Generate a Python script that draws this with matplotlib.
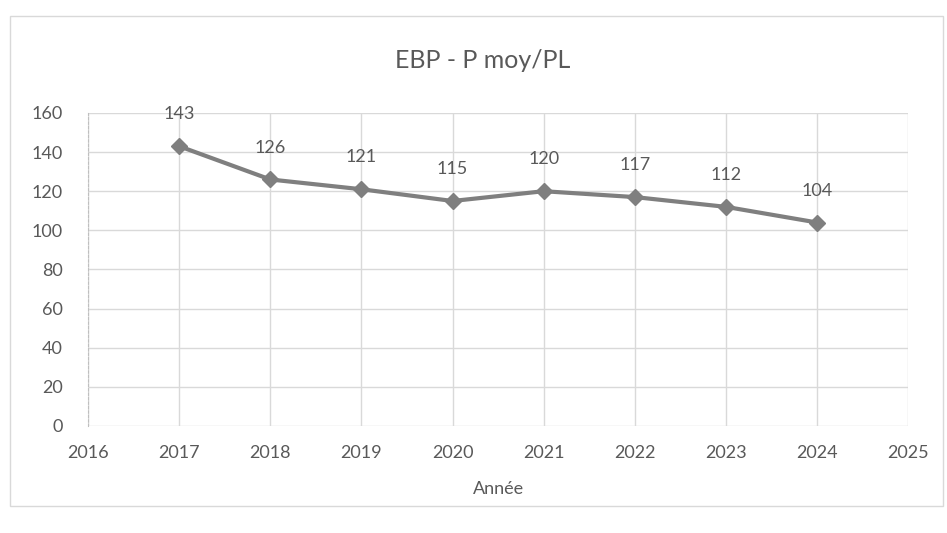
import matplotlib.pyplot as plt
from matplotlib.patches import Rectangle

# données du graphique
annees = [2017, 2018, 2019, 2020, 2021, 2022, 2023, 2024]
p_moy = [143, 126, 121, 115, 120, 117, 112, 104]
x_ticks = list(range(2016, 2026))
y_ticks = list(range(0, 161, 20))

gris = '#7f7f7f'
texte = '#595959'
plt.rcParams['font.family'] = ['Lato', 'DejaVu Sans']

fig = plt.figure(figsize=(9.47, 5.33), dpi=100)
ax = fig.add_axes([0.093, 0.201, 0.866, 0.587])

# cadre du graphique
fig.patches.append(Rectangle((0.011, 0.05), 0.985, 0.92, transform=fig.transFigure,
                             fill=False, edgecolor='#d9d9d9', linewidth=1))

ax.plot(annees, p_moy, color=gris, linewidth=3, marker='D', markersize=8, zorder=3)
for a, v in zip(annees, p_moy):
    ax.annotate(str(v), (a, v), xytext=(0, 23), textcoords='offset points',
                ha='center', va='center', fontsize=13, color=texte)

ax.set_xlim(2016, 2025)
ax.set_ylim(0, 160)
ax.set_xticks(x_ticks)
ax.set_yticks(y_ticks)
ax.grid(True, color='#d9d9d9', linewidth=1)
ax.set_axisbelow(True)
for s in ['top', 'right', 'bottom']:
    ax.spines[s].set_visible(False)
ax.spines['left'].set_color('#bfbfbf')
ax.spines['left'].set_linestyle((0, (2, 2)))
ax.tick_params(length=0, labelsize=13, labelcolor=texte)
ax.tick_params(axis='x', pad=14)
ax.tick_params(axis='y', pad=18)
ax.set_xlabel('Année', fontsize=13, color=texte, labelpad=14)
fig.text(0.51, 0.887, 'EBP - P moy/PL', ha='center', va='center', fontsize=18, color=texte)

fig.savefig('out.png', dpi=100)
